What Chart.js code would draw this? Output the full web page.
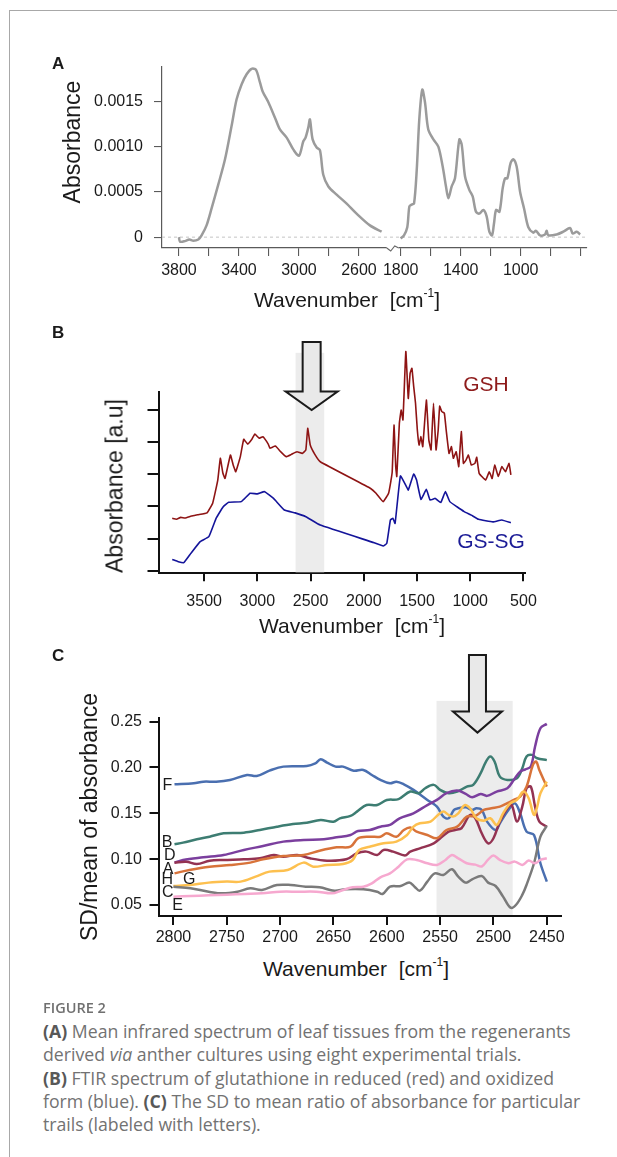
<!DOCTYPE html>
<html>
<head>
<meta charset="utf-8">
<script src="https://cdn.jsdelivr.net/npm/chart.js@4.4.1/dist/chart.umd.min.js"></script>
<style>
  body { margin: 0; background: #fff; }
  #page { position: relative; width: 617px; height: 1157px; overflow: hidden; font-family: "Liberation Sans", Arial, sans-serif; color: #1a1a1a; }
  .frameTop { position: absolute; left: 9px; top: 10px; width: 608px; height: 1px; background: #a8a8a8; }
  .frameLeft { position: absolute; left: 9px; top: 10px; width: 1px; height: 1147px; background: #a8a8a8; }
  canvas { position: absolute; left: 0; }
  .panel { position: absolute; left: 52px; font-weight: bold; font-size: 17px; line-height: 1; }
  .xt { position: absolute; font-size: 21px; line-height: 1; white-space: nowrap; transform: translate(-50%, -50%); }
  .xt sup { font-size: 12px; position: relative; top: -2px; vertical-align: top; }
  .yt { position: absolute; font-size: 23px; line-height: 1; white-space: nowrap; transform: translate(-50%, -50%) rotate(-90deg); }
  .tag { position: absolute; font-size: 21px; line-height: 1; white-space: nowrap; transform: translate(-50%, -50%); }
  .fig { position: absolute; left: 43px; top: 999px; font-family: "Open Sans", sans-serif; font-weight: 600; font-size: 14.5px; line-height: 18px; color: #707070; }
  .cap { position: absolute; left: 43px; top: 1020px; font-family: "Open Sans", sans-serif; font-size: 17.7px; line-height: 23.3px; color: #727272; white-space: nowrap; }
  .cap b { color: #585858; }
</style>
</head>
<body>
<div id="page">
  <div class="frameTop"></div>
  <div class="frameLeft"></div>

  <canvas id="chartA" width="617" height="255" style="top:40px"></canvas>
  <canvas id="chartB" width="617" height="285" style="top:330px"></canvas>
  <canvas id="chartC" width="617" height="305" style="top:645px"></canvas>

  <div class="panel" style="top:55px">A</div>
  <div class="yt" style="left:72px; top:142px">Absorbance</div>
  <div class="xt" style="left:347px; top:299px">Wavenumber&nbsp; [cm<sup>-1</sup>]</div>

  <div class="panel" style="top:324px">B</div>
  <div class="yt" style="left:115px; top:486px">Absorbance [a.u]</div>
  <div class="xt" style="left:352px; top:625px">Wavenumber&nbsp; [cm<sup>-1</sup>]</div>
  <div class="tag" style="left:486px; top:383px; color:#8e1b1b">GSH</div>
  <div class="tag" style="left:491px; top:540px; color:#1b1b96">GS-SG</div>

  <div class="panel" style="top:647px">C</div>
  <div class="yt" style="left:89px; top:817px">SD/mean of absorbance</div>
  <div class="xt" style="left:356px; top:968px">Wavenumber&nbsp; [cm<sup>-1</sup>]</div>

  <div class="fig">FIGURE 2</div>
  <div class="cap"><b>(A)</b> Mean infrared spectrum of leaf tissues from the regenerants<br>derived <i>via</i> anther cultures using eight experimental trials.<br><b>(B)</b> FTIR spectrum of glutathione in reduced (red) and oxidized<br>form (blue). <b>(C)</b> The SD to mean ratio of absorbance for particular<br>trails (labeled with letters).</div>
</div>

<script>
// ---------------- Panel A: mean spectrum, two windows ----------------
const waveA1 = [3800, 3793, 3760, 3731, 3704, 3671, 3649, 3616, 3582, 3538, 3493, 3449, 3416, 3382, 3349, 3316, 3287, 3260, 3242, 3204, 3160, 3127, 3082, 3038, 3000, 2971, 2956, 2938, 2927, 2909, 2882, 2860, 2838, 2804, 2749, 2682, 2616, 2527, 2449];
const absA1 = [0, -0.00005, -0.000044, -0.000026, -0.00004, -0.000026, 0.00002, 0.00013, 0.00032, 0.00058, 0.00086, 0.00123, 0.00152, 0.00169, 0.0018, 0.00186, 0.00185, 0.00171, 0.00161, 0.00149, 0.00132, 0.00119, 0.0011, 0.00097, 0.0009, 0.00106, 0.0011, 0.00121, 0.0013, 0.00108, 0.00099, 0.00096, 0.00069, 0.00056, 0.00047, 0.00037, 0.00026, 0.00013, 0.00006];
const waveA2 = [1800, 1778, 1756, 1742, 1727, 1711, 1693, 1676, 1656, 1638, 1616, 1582, 1549, 1520, 1498, 1482, 1460, 1438, 1409, 1393, 1371, 1342, 1320, 1298, 1276, 1249, 1227, 1209, 1191, 1178, 1164, 1142, 1120, 1104, 1089, 1067, 1049, 1027, 1004, 978, 949, 916, 898, 871, 838, 827, 816, 760, 716, 671, 653, 627, 604];
const absA2 = [-0.000015, 0.00002, 0.00011, 0.00034, 0.00036, 0.00037, 0.00074, 0.0013, 0.00163, 0.00149, 0.00119, 0.00108, 0.001, 0.00078, 0.00056, 0.00043, 0.00056, 0.00065, 0.00108, 0.00102, 0.00067, 0.00052, 0.00045, 0.00028, 0.00026, 0.0003, 0.00023, 0.00006, 0.00002, 0.00015, 0.0003, 0.00028, 0.00054, 0.00065, 0.00065, 0.00082, 0.00086, 0.00078, 0.0005, 0.00032, 0.00011, 0.00005, 0.00007, 0.00002, 0.00003, 0.00007, 0.00002, 0.00003, 0.00006, 0.0001, 0.00004, 0.00006, 0.00003];
const ticksA1 = [3800, 3600, 3400, 3200, 3000, 2800, 2600];
const ticksA2 = [1800, 1600, 1400, 1200, 1000, 800, 600];
const labelsA = [3800, 3400, 3000, 2600, 1800, 1400, 1000];
const ticksAy = [0, 0.0005, 0.001, 0.0015];
const breakAt = 2375;     // axis break position (upper window units)
const breakShift = 522;   // lower window is shifted to sit right after the break

// ---------------- Panel B: glutathione spectra (a.u.) ----------------
const waveGSH = [3800, 3760, 3720, 3680, 3620, 3560, 3473, 3420, 3372, 3348, 3325, 3304, 3253, 3228, 3203, 3160, 3128, 3091, 3050, 3024, 2983, 2949, 2898, 2882, 2831, 2780, 2730, 2680, 2628, 2578, 2545, 2527, 2503, 2460, 2409, 1936, 1885, 1818, 1767, 1745, 1733, 1716, 1700, 1690, 1666, 1649, 1632, 1605, 1582, 1565, 1548, 1531, 1514, 1497, 1480, 1463, 1446, 1412, 1389, 1368, 1345, 1321, 1301, 1287, 1267, 1243, 1226, 1199, 1176, 1159, 1132, 1108, 1084, 1064, 1040, 1017, 990, 956, 939, 916, 855, 821, 794, 770, 736, 703, 669, 635, 618];
const absGSH = [1.63, 1.60, 1.66, 1.64, 1.70, 1.74, 1.80, 2.10, 2.82, 3.50, 3.05, 2.87, 3.60, 3.30, 3.08, 3.55, 4.09, 3.94, 4.10, 4.25, 4.12, 4.17, 3.94, 3.81, 3.88, 3.70, 3.55, 3.62, 3.70, 3.65, 3.75, 4.43, 3.91, 3.62, 3.39, 2.56, 2.41, 2.15, 2.41, 2.80, 3.08, 4.53, 3.24, 2.93, 4.58, 5.00, 4.69, 6.82, 5.36, 6.14, 6.30, 5.73, 5.21, 4.38, 3.91, 4.17, 3.86, 5.31, 4.07, 3.76, 5.21, 3.76, 4.38, 5.12, 4.95, 4.90, 4.38, 3.65, 3.86, 3.50, 3.70, 3.24, 4.33, 3.34, 3.44, 3.60, 3.29, 3.34, 3.53, 3.03, 2.82, 3.08, 2.87, 3.29, 2.93, 3.24, 3.08, 3.34, 2.98];
const waveGSSG = [3800, 3743, 3692, 3625, 3540, 3456, 3388, 3321, 3270, 3152, 3068, 3000, 2932, 2848, 2747, 2645, 2544, 2409, 1902, 1818, 1784, 1750, 1726, 1706, 1656, 1598, 1582, 1531, 1504, 1463, 1412, 1378, 1328, 1277, 1233, 1192, 1125, 1057, 990, 922, 787, 703, 618];
const absGSSG = [0.35, 0.28, 0.25, 0.54, 0.90, 1.06, 1.63, 1.99, 2.13, 2.15, 2.41, 2.39, 2.46, 2.25, 1.89, 1.80, 1.68, 1.42, 0.87, 0.77, 0.85, 1.58, 1.63, 1.47, 2.95, 2.61, 2.51, 3.01, 2.82, 2.22, 2.53, 2.20, 2.25, 2.12, 2.46, 2.15, 1.99, 1.84, 1.73, 1.60, 1.52, 1.58, 1.49];
const ticksB = [3500, 3000, 2500, 2000, 1500, 1000, 500];
const ticksBy = [0, 1, 2, 3, 4, 5];
const bandB = [2641, 2372];

// ---------------- Panel C: SD/mean ratio per trial ----------------
const waveF = [2799, 2781, 2772, 2760, 2747, 2731, 2722, 2710, 2697, 2675, 2667, 2662, 2656, 2648, 2641, 2631, 2622, 2614, 2606, 2597, 2591, 2584, 2575, 2562, 2553, 2547, 2542, 2537, 2533, 2526, 2520, 2516, 2511, 2506, 2498, 2494, 2487, 2480, 2475, 2469, 2462, 2456, 2450];
const sdF = [0.1816, 0.1827, 0.1845, 0.1845, 0.1864, 0.1918, 0.1907, 0.1965, 0.2009, 0.2016, 0.2045, 0.2089, 0.2053, 0.2009, 0.2009, 0.1965, 0.1973, 0.1918, 0.1864, 0.1827, 0.1845, 0.1816, 0.1755, 0.1646, 0.1573, 0.1464, 0.1446, 0.1537, 0.1555, 0.1566, 0.1537, 0.1555, 0.1537, 0.1409, 0.1318, 0.1391, 0.1519, 0.161, 0.15, 0.13, 0.1264, 0.0955, 0.0755];
const waveB = [2799, 2791, 2778, 2766, 2753, 2734, 2719, 2703, 2688, 2675, 2662, 2650, 2644, 2634, 2628, 2619, 2609, 2600, 2589, 2578, 2570, 2564, 2556, 2550, 2542, 2534, 2525, 2519, 2512, 2507, 2503, 2499, 2494, 2487, 2478, 2473, 2469, 2464, 2459, 2450];
const sdB = [0.1162, 0.118, 0.1216, 0.1245, 0.1282, 0.1289, 0.1318, 0.1354, 0.1383, 0.1398, 0.1427, 0.1409, 0.1445, 0.1471, 0.1518, 0.1591, 0.1591, 0.1645, 0.1655, 0.1737, 0.1719, 0.1773, 0.181, 0.1755, 0.1719, 0.1737, 0.1791, 0.181, 0.1937, 0.2064, 0.2119, 0.2064, 0.19, 0.1864, 0.1882, 0.1991, 0.2119, 0.2137, 0.21, 0.208];
const waveD = [2799, 2791, 2772, 2753, 2734, 2716, 2697, 2678, 2659, 2647, 2634, 2627, 2616, 2606, 2597, 2588, 2575, 2562, 2553, 2544, 2534, 2526, 2520, 2512, 2506, 2497, 2487, 2481, 2475, 2470, 2465, 2461, 2456, 2450];
const sdD = [0.0962, 0.0991, 0.102, 0.1045, 0.11, 0.1143, 0.1191, 0.1209, 0.1216, 0.1238, 0.1264, 0.1307, 0.1318, 0.1354, 0.1373, 0.1445, 0.15, 0.159, 0.1646, 0.1719, 0.1748, 0.1711, 0.1675, 0.1711, 0.169, 0.1737, 0.1773, 0.1864, 0.1955, 0.198, 0.201, 0.2228, 0.2428, 0.2475];
const waveA = [2799, 2788, 2778, 2766, 2753, 2734, 2719, 2706, 2697, 2684, 2672, 2656, 2638, 2628, 2619, 2609, 2603, 2594, 2583, 2578, 2569, 2556, 2548, 2542, 2536, 2530, 2522, 2517, 2511, 2505, 2500, 2494, 2487, 2483, 2478, 2473, 2469, 2465, 2461, 2457, 2450];
const sdA = [0.0962, 0.0972, 0.0947, 0.0983, 0.0991, 0.0998, 0.1009, 0.1045, 0.1027, 0.1045, 0.1009, 0.0983, 0.0998, 0.1064, 0.1082, 0.1045, 0.11, 0.1082, 0.104, 0.1082, 0.1118, 0.1173, 0.1246, 0.13, 0.1318, 0.1337, 0.1482, 0.1446, 0.1282, 0.1173, 0.1228, 0.141, 0.1555, 0.1591, 0.141, 0.1573, 0.1773, 0.1791, 0.1573, 0.141, 0.1355];
const waveH = [2799, 2785, 2766, 2747, 2728, 2716, 2697, 2678, 2663, 2647, 2634, 2627, 2616, 2606, 2600, 2591, 2584, 2578, 2572, 2562, 2553, 2544, 2534, 2525, 2517, 2509, 2502, 2494, 2487, 2481, 2475, 2469, 2463, 2460, 2457, 2450];
const sdH = [0.0845, 0.0882, 0.0918, 0.0936, 0.0962, 0.0998, 0.1034, 0.1045, 0.1092, 0.1129, 0.1136, 0.1227, 0.1245, 0.1245, 0.1282, 0.1245, 0.1318, 0.1345, 0.13, 0.1264, 0.1228, 0.1318, 0.1355, 0.1464, 0.1471, 0.1537, 0.1555, 0.1573, 0.161, 0.1646, 0.1682, 0.1791, 0.2028, 0.2064, 0.1973, 0.1791];
const waveG = [2800, 2784, 2767, 2750, 2737, 2723, 2710, 2693, 2678, 2669, 2656, 2641, 2632, 2626, 2616, 2603, 2591, 2581, 2575, 2569, 2559, 2552, 2547, 2542, 2538, 2533, 2527, 2522, 2516, 2509, 2503, 2497, 2491, 2484, 2478, 2472, 2467, 2462, 2459, 2456, 2450];
const sdG = [0.0707, 0.0718, 0.0744, 0.0755, 0.0755, 0.0809, 0.0864, 0.0882, 0.0962, 0.0918, 0.0936, 0.0947, 0.0991, 0.11, 0.1136, 0.1173, 0.1191, 0.1264, 0.1355, 0.1391, 0.141, 0.1482, 0.1519, 0.1482, 0.1464, 0.15, 0.159, 0.1555, 0.1446, 0.142, 0.1446, 0.1373, 0.15, 0.161, 0.1646, 0.1737, 0.1664, 0.1482, 0.1573, 0.1719, 0.1845];
const waveC = [2800, 2784, 2767, 2754, 2740, 2728, 2717, 2703, 2690, 2676, 2663, 2649, 2639, 2622, 2609, 2604, 2597, 2587, 2579, 2574, 2569, 2562, 2555, 2547, 2539, 2533, 2526, 2520, 2511, 2505, 2498, 2491, 2484, 2479, 2473, 2469, 2462, 2456, 2450];
const sdC = [0.07, 0.0682, 0.0645, 0.0627, 0.0645, 0.0682, 0.0664, 0.0718, 0.0718, 0.07, 0.0693, 0.0656, 0.0671, 0.0671, 0.0645, 0.062, 0.07, 0.0707, 0.0744, 0.07, 0.0656, 0.0755, 0.0845, 0.0827, 0.0889, 0.0809, 0.0744, 0.078, 0.0816, 0.0744, 0.0707, 0.0591, 0.0471, 0.05, 0.061, 0.072, 0.0955, 0.1246, 0.1362];
const waveE = [2800, 2784, 2767, 2750, 2733, 2717, 2700, 2683, 2666, 2651, 2643, 2632, 2622, 2614, 2606, 2597, 2589, 2581, 2572, 2562, 2553, 2545, 2539, 2533, 2525, 2517, 2511, 2505, 2500, 2494, 2486, 2480, 2473, 2467, 2461, 2456, 2450];
const sdE = [0.0591, 0.0598, 0.0605, 0.0613, 0.062, 0.0627, 0.0645, 0.0645, 0.0645, 0.0627, 0.0656, 0.0693, 0.07, 0.0736, 0.0802, 0.0845, 0.0918, 0.0998, 0.0991, 0.0955, 0.0937, 0.0991, 0.1045, 0.1009, 0.0955, 0.094, 0.092, 0.0995, 0.104, 0.0991, 0.0955, 0.0973, 0.0937, 0.0984, 0.0955, 0.0991, 0.1009];
const trialNames = ['F', 'B', 'D', 'A', 'H', 'G', 'C', 'E'];
const labelWave = [2805.7, 2806, 2803.4, 2805, 2805.7, 2785.2, 2805.4, 2796];
const labelSd = [0.180, 0.1184, 0.1035, 0.0889, 0.0773, 0.078, 0.0638, 0.0493];
const ticksC = [2800, 2750, 2700, 2650, 2600, 2550, 2500, 2450];
const ticksCy = [0.05, 0.10, 0.15, 0.20, 0.25];
const bandC = [2553.4, 2482];

// ---------------- helpers ----------------
const FONT = '"Liberation Sans", Arial, sans-serif';
Chart.defaults.font.family = FONT;
Chart.defaults.font.size = 16;
Chart.defaults.color = '#1a1a1a';

function pts(xs, ys, shift = 0) {
  return xs.map((v, i) => ({ x: v + shift, y: ys[i] }));
}
function fixTicks(values) {
  return s => { s.ticks = values.map(v => ({ value: v })); };
}
function line(data, color, width, tension) {
  return { data, borderColor: color, borderWidth: width, pointRadius: 0, tension, fill: false };
}
const noChrome = { legend: { display: false }, tooltip: { enabled: false } };

// grey band + hollow arrow used in B and C
function shadeArrow(o) {
  return {
    id: 'shadeArrow',
    beforeDatasetsDraw(chart) {
      const { ctx, chartArea, scales: { x, y } } = chart;
      const x1 = x.getPixelForValue(o.band[0]), x2 = x.getPixelForValue(o.band[1]);
      const top = y.getPixelForValue(o.bandTop);
      ctx.save();
      ctx.fillStyle = '#ececec';
      ctx.fillRect(x1, top, x2 - x1, chartArea.bottom - 1 - top);
      ctx.restore();
    },
    afterDatasetsDraw(chart) {
      const { ctx, scales: { x, y } } = chart;
      const cx = x.getPixelForValue(o.arrowAt), tip = y.getPixelForValue(o.arrowTip);
      ctx.save();
      ctx.beginPath();
      ctx.moveTo(cx - o.shaft, tip - o.len);
      ctx.lineTo(cx + o.shaft, tip - o.len);
      ctx.lineTo(cx + o.shaft, tip - o.headLen);
      ctx.lineTo(cx + o.head, tip - o.headLen);
      ctx.lineTo(cx, tip);
      ctx.lineTo(cx - o.head, tip - o.headLen);
      ctx.lineTo(cx - o.shaft, tip - o.headLen);
      ctx.closePath();
      ctx.fillStyle = '#e9e9e9';
      ctx.fill();
      ctx.lineWidth = 2;
      ctx.strokeStyle = '#1a1a1a';
      ctx.stroke();
      ctx.restore();
    }
  };
}

// ---------------- Chart A ----------------
const plotA = {
  id: 'plotA',
  beforeDatasetsDraw(chart) {
    const { ctx, chartArea, scales: { y } } = chart;
    const y0 = y.getPixelForValue(0);
    ctx.save();
    ctx.strokeStyle = '#c4c4c4';
    ctx.lineWidth = 1;
    ctx.setLineDash([3, 3]);
    ctx.beginPath();
    ctx.moveTo(chartArea.left, y0);
    ctx.lineTo(chartArea.right, y0);
    ctx.stroke();
    ctx.restore();
  },
  afterDraw(chart) {
    const { ctx, chartArea, scales: { x } } = chart;
    const bx = x.getPixelForValue(breakAt), by = chartArea.bottom;
    ctx.save();
    ctx.fillStyle = '#fff';
    ctx.fillRect(bx - 6, by - 2, 12, 4);
    ctx.strokeStyle = '#666';
    ctx.lineWidth = 1.1;
    ctx.beginPath();
    ctx.moveTo(bx - 6, by);
    ctx.lineTo(bx - 2, by + 3);
    ctx.lineTo(bx + 2, by - 2);
    ctx.lineTo(bx + 6, by);
    ctx.stroke();
    ctx.restore();
  }
};

new Chart(document.getElementById('chartA'), {
  type: 'line',
  data: {
    datasets: [
      line(pts(waveA1, absA1), '#9b9b9b', 2.5, 0.3),
      line(pts(waveA2, absA2, breakShift), '#9b9b9b', 2.5, 0.3)
    ]
  },
  options: {
    responsive: false, animation: false, events: [],
    layout: { autoPadding: false, padding: { top: 27, right: 30, bottom: 0, left: 0 } },
    plugins: noChrome,
    scales: {
      x: {
        type: 'linear', reverse: true, min: 1080, max: 3913,
        afterBuildTicks: fixTicks(ticksA1.concat(ticksA2.map(v => v + breakShift))),
        afterFit: s => { s.height = 47; },
        ticks: {
          autoSkip: false, maxRotation: 0, padding: 5,
          callback: v => {
            const w = v > breakAt ? v : v - breakShift;
            return labelsA.includes(w) ? String(w) : '';
          }
        },
        grid: { drawOnChartArea: false, tickLength: 8, color: '#5a5a5a', lineWidth: 1.1 },
        border: { color: '#5a5a5a', width: 1.2 }
      },
      y: {
        min: -0.00012, max: 0.00188,
        afterBuildTicks: fixTicks(ticksAy),
        afterFit: s => { s.width = 162; },
        ticks: { padding: 11, callback: v => v === 0 ? '0' : v.toFixed(4) },
        grid: { drawOnChartArea: false, tickLength: 8, color: '#5a5a5a', lineWidth: 1.1 },
        border: { color: '#5a5a5a', width: 1.2 }
      }
    }
  },
  plugins: [plotA]
});

// ---------------- Chart B ----------------
new Chart(document.getElementById('chartB'), {
  type: 'line',
  data: {
    datasets: [
      Object.assign(line(pts(waveGSH, absGSH), '#8e1414', 1.6, 0.1), { clip: false }),
      line(pts(waveGSSG, absGSSG), '#14149a', 1.6, 0.1)
    ]
  },
  options: {
    responsive: false, animation: false, events: [],
    layout: { autoPadding: false, padding: { top: 61.7, right: 92.5, bottom: 0, left: 0 } },
    plugins: noChrome,
    scales: {
      x: {
        type: 'linear', reverse: true, min: 490, max: 3929,
        afterBuildTicks: fixTicks(ticksB),
        afterFit: s => { s.height = 41.7; },
        ticks: { autoSkip: false, maxRotation: 0, padding: 10.8, callback: v => String(v) },
        grid: { drawOnChartArea: false, tickLength: 8, color: '#111', lineWidth: 2 },
        border: { color: '#111', width: 2 }
      },
      y: {
        min: -0.08, max: 5.57,
        afterBuildTicks: fixTicks(ticksBy),
        afterFit: s => { s.width = 158.5; },
        ticks: { padding: 0, callback: () => '' },
        grid: { drawOnChartArea: false, tickLength: 11, color: '#111', lineWidth: 2 },
        border: { color: '#111', width: 2 }
      }
    }
  },
  plugins: [shadeArrow({ band: bandB, bandTop: 6.78, arrowAt: 2490, arrowTip: 5.0, len: 68, headLen: 18.5, shaft: 9, head: 26 })]
});

// ---------------- Chart C ----------------
const letters = {
  id: 'letters',
  afterDatasetsDraw(chart) {
    const { ctx, scales: { x, y } } = chart;
    ctx.save();
    ctx.font = '16px ' + FONT;
    ctx.fillStyle = '#1a1a1a';
    ctx.textAlign = 'center';
    ctx.textBaseline = 'middle';
    trialNames.forEach((n, i) => ctx.fillText(n, x.getPixelForValue(labelWave[i]), y.getPixelForValue(labelSd[i])));
    ctx.restore();
  }
};

new Chart(document.getElementById('chartC'), {
  type: 'line',
  data: {
    datasets: [
      line(pts(waveE, sdE), '#f6a8cf', 2.5, 0.35),
      line(pts(waveC, sdC), '#7a7a7a', 2.5, 0.35),
      line(pts(waveG, sdG), '#fdc04f', 2.5, 0.35),
      line(pts(waveH, sdH), '#d8733a', 2.5, 0.35),
      line(pts(waveA, sdA), '#943352', 2.5, 0.35),
      line(pts(waveD, sdD), '#7b3f9e', 2.5, 0.35),
      line(pts(waveB, sdB), '#3d7d72', 2.5, 0.35),
      line(pts(waveF, sdF), '#4a6fb0', 2.5, 0.35)
    ]
  },
  options: {
    responsive: false, animation: false, events: [],
    layout: { autoPadding: false, padding: { top: 73.3, right: 56, bottom: 0, left: 0 } },
    plugins: noChrome,
    scales: {
      x: {
        type: 'linear', reverse: true, min: 2436.7, max: 2814,
        afterBuildTicks: fixTicks(ticksC),
        afterFit: s => { s.height = 34; },
        ticks: { autoSkip: false, maxRotation: 0, padding: 3, callback: v => String(v) },
        grid: { drawOnChartArea: false, tickLength: 9, color: '#111', lineWidth: 2 },
        border: { color: '#111', width: 2 }
      },
      y: {
        min: 0.038, max: 0.2536,
        afterBuildTicks: fixTicks(ticksCy),
        afterFit: s => { s.width = 158.5; },
        ticks: { padding: 7.5, callback: v => v.toFixed(2) },
        grid: { drawOnChartArea: false, tickLength: 9, color: '#111', lineWidth: 2 },
        border: { color: '#111', width: 2 }
      }
    }
  },
  plugins: [shadeArrow({ band: bandC, bandTop: 0.2726, arrowAt: 2515, arrowTip: 0.238, len: 77.7, headLen: 21, shaft: 8.5, head: 24.5 }), letters]
});
</script>
</body>
</html>
